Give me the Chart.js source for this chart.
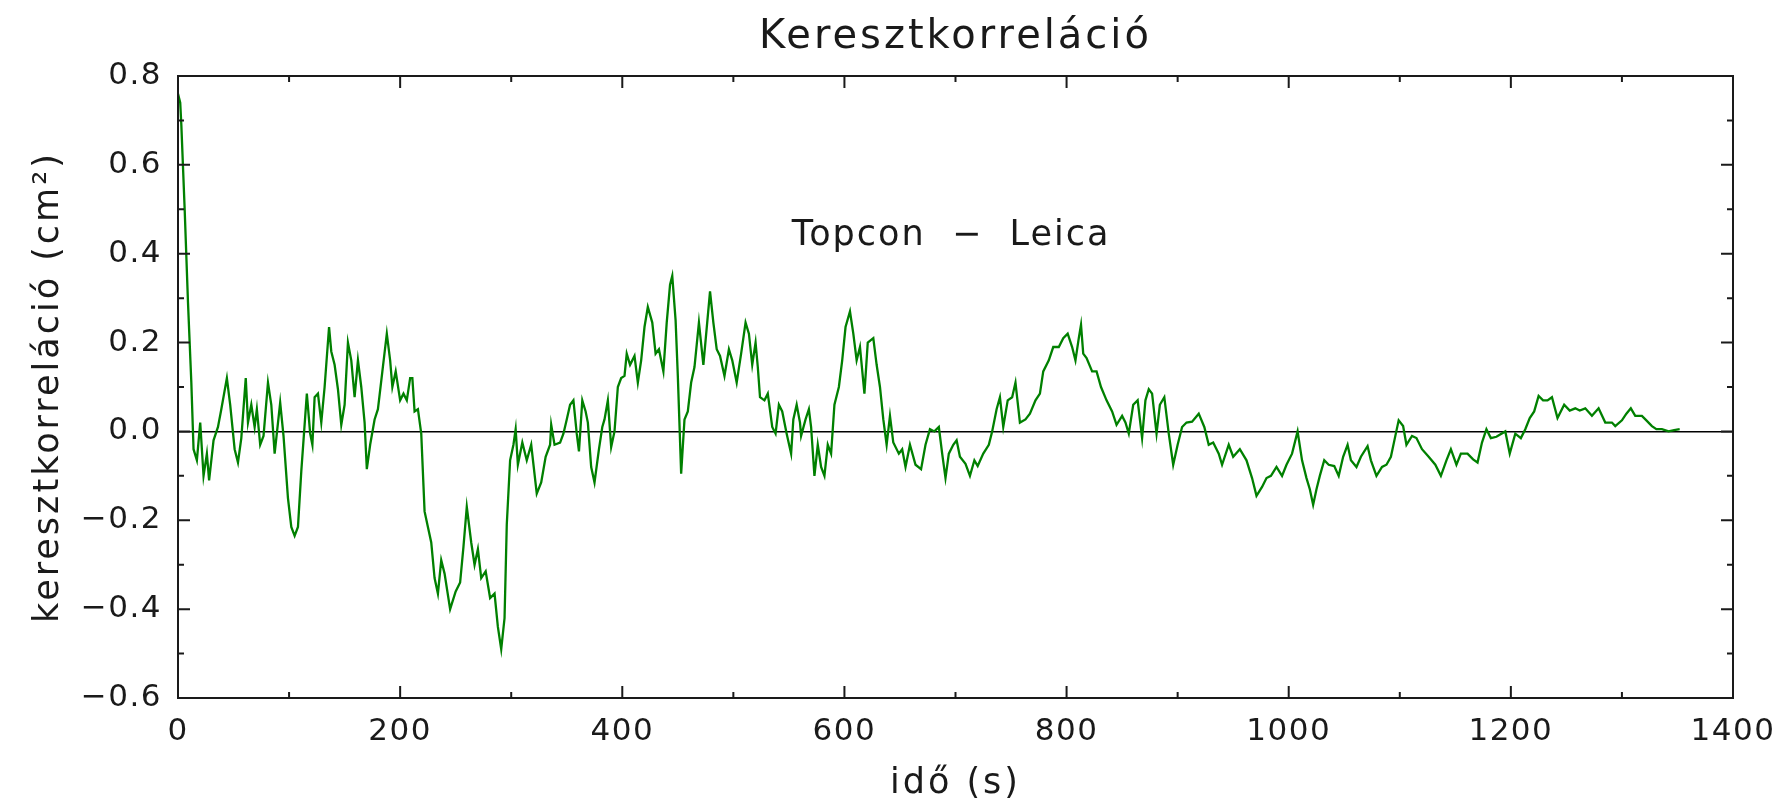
<!DOCTYPE html>
<html>
<head>
<meta charset="utf-8">
<title>Keresztkorreláció</title>
<script src="https://cdn.jsdelivr.net/npm/chart.js@4"></script>
<style>
  html, body { margin: 0; padding: 0; background: #fff; }
  #wrap { width: 1780px; height: 801px; }
</style>
</head>
<body>
<div id="wrap"><canvas id="xcorr"></canvas></div>
<script>
// time lag (s) and cross-correlation (cm^2)
const times = [
  0, 2, 3, 6, 9, 12, 14, 17, 20, 23, 26, 28, 32, 36, 39, 44, 47, 51, 54, 57,
  61, 63, 66, 69, 71, 74, 77, 81, 84, 87, 92, 95, 99, 102, 105, 108, 111, 116, 119, 121,
  123, 126, 129, 132, 136, 138, 141, 144, 147, 150, 153, 156, 159, 162, 165, 168, 170, 173, 177, 180,
  184, 188, 191, 193, 196, 200, 203, 206, 209, 211, 213, 216, 219, 222, 225, 228,
  231, 234, 237, 240, 245, 250, 254, 257, 260, 264, 267, 270, 273, 277, 281, 285, 288, 291, 294, 296,
  299, 302, 304, 306, 310, 314, 318, 323, 327, 331, 335, 336, 339, 344, 347, 350, 353, 356, 359, 361,
  364, 367, 369, 372, 375, 379, 382, 384, 387, 390, 393, 396, 399, 402, 404, 407, 411, 414, 417, 420,
  423, 427, 430, 433, 437, 440, 443, 445, 448, 450, 453, 456, 459, 462, 465,
  469, 473, 479, 482, 485, 488, 492, 496, 499, 503, 507, 511, 514, 517, 520, 522, 524, 528, 531, 535,
  538, 541, 544, 548, 552, 554, 557, 560, 561, 565, 568, 570, 573, 576, 579, 582, 585, 588, 591, 595,
  598, 601, 605, 608, 611, 614, 618, 621, 626, 629, 632, 635, 638, 641, 644, 649, 652, 655, 659, 664,
  669, 673, 677, 681, 685, 688, 691, 694, 698,
  701, 704, 709, 713, 717, 720, 725, 730, 733, 737, 740, 743, 747, 751, 754, 758, 763, 767, 772, 776,
  779, 784, 788, 793, 797, 801, 805, 808, 811, 813, 815, 818, 823, 827, 831, 836, 841, 845, 850, 853,
  856, 860, 864, 868, 871, 874, 877, 881, 884, 888, 892, 896, 900, 904, 908, 913, 919, 924, 928, 932,
  937, 940, 946, 950, 956, 962, 967, 971, 976, 980, 984, 989, 994, 998, 1003, 1008, 1012, 1016, 1019, 1022,
  1025, 1028, 1032, 1036, 1041, 1045, 1049, 1053, 1056, 1061, 1065, 1071, 1074, 1079, 1084, 1088, 1092, 1096, 1099, 1103,
  1106, 1111, 1115, 1120, 1126, 1132, 1137, 1142, 1146, 1151, 1155, 1161, 1166,
  1170, 1174, 1178, 1182, 1187, 1195, 1199, 1204, 1209, 1213, 1217, 1221, 1225, 1229, 1233, 1237, 1242, 1248, 1253, 1258,
  1262, 1267, 1273, 1279, 1285, 1291, 1294, 1300, 1304, 1308, 1312, 1318, 1322, 1327, 1331, 1336, 1342, 1347, 1352
];
const xcorr = [
  0.76, 0.74, 0.69, 0.50, 0.29, 0.11, -0.04, -0.065, 0.02, -0.10, -0.05, -0.11, -0.02, 0.01, 0.05, 0.12, 0.06, -0.04, -0.07, -0.015,
  0.12, 0.02, 0.06, 0.01, 0.05, -0.03, -0.01, 0.11, 0.06, -0.05, 0.065, -0.01, -0.15, -0.215, -0.235, -0.215, -0.09, 0.085, -0.005, -0.03,
  0.077, 0.085, 0.02, 0.10, 0.235, 0.18, 0.15, 0.095, 0.015, 0.06, 0.20, 0.16, 0.077, 0.16, 0.10, 0.02, -0.085, -0.03, 0.027, 0.05,
  0.135, 0.22, 0.16, 0.10, 0.135, 0.07, 0.085, 0.07, 0.12, 0.12, 0.045, 0.05, -0.005, -0.18, -0.215, -0.25,
  -0.33, -0.365, -0.29, -0.32, -0.40, -0.36, -0.34, -0.26, -0.17, -0.25, -0.30, -0.265, -0.33, -0.315, -0.375, -0.365, -0.44, -0.49, -0.42, -0.21,
  -0.065, -0.03, 0.005, -0.075, -0.025, -0.065, -0.03, -0.14, -0.115, -0.057, -0.03, 0.015, -0.03, -0.025, -0.005, 0.027, 0.06, 0.07, -0.005, -0.045,
  0.07, 0.045, 0.02, -0.08, -0.115, -0.04, 0.01, 0.027, 0.07, -0.035, 0.0, 0.10, 0.12, 0.125, 0.175, 0.15, 0.17, 0.11, 0.16, 0.235,
  0.28, 0.245, 0.175, 0.185, 0.135, 0.245, 0.33, 0.35, 0.25, 0.125, -0.095, 0.027, 0.045, 0.11, 0.145,
  0.245, 0.15, 0.315, 0.245, 0.185, 0.17, 0.125, 0.185, 0.16, 0.11, 0.175, 0.245, 0.22, 0.15, 0.20, 0.145, 0.077, 0.07, 0.085, 0.01,
  -0.005, 0.06, 0.045, -0.005, -0.05, 0.027, 0.06, 0.02, -0.01, 0.027, 0.05, 0.01, -0.10, -0.03, -0.08, -0.10, -0.03, -0.05, 0.06, 0.10,
  0.16, 0.235, 0.27, 0.22, 0.16, 0.19, 0.085, 0.20, 0.21, 0.15, 0.10, 0.027, -0.03, 0.035, -0.025, -0.05, -0.04, -0.08, -0.03, -0.075,
  -0.085, -0.03, 0.005, 0.0, 0.01, -0.05, -0.105, -0.05, -0.03,
  -0.02, -0.057, -0.073, -0.10, -0.065, -0.078, -0.05, -0.03, 0.0, 0.05, 0.077, 0.01, 0.07, 0.077, 0.11, 0.02, 0.027, 0.04, 0.07, 0.085,
  0.135, 0.16, 0.19, 0.19, 0.21, 0.22, 0.19, 0.16, 0.21, 0.24, 0.175, 0.165, 0.135, 0.135, 0.10, 0.07, 0.045, 0.015, 0.035, 0.02,
  -0.005, 0.06, 0.07, -0.015, 0.07, 0.095, 0.085, -0.005, 0.06, 0.077, -0.005, -0.075, -0.03, 0.01, 0.02, 0.022, 0.04, 0.01, -0.03, -0.025,
  -0.05, -0.075, -0.03, -0.057, -0.04, -0.065, -0.105, -0.145, -0.125, -0.105, -0.10, -0.08, -0.10, -0.075, -0.05, 0.0, -0.065, -0.105, -0.13, -0.165,
  -0.13, -0.10, -0.065, -0.075, -0.078, -0.10, -0.057, -0.03, -0.065, -0.08, -0.057, -0.033, -0.065, -0.10, -0.08, -0.075, -0.057, -0.01, 0.025, 0.012,
  -0.03, -0.01, -0.015, -0.04, -0.057, -0.075, -0.10, -0.065, -0.04, -0.075, -0.05, -0.05, -0.063,
  -0.07, -0.025, 0.005, -0.015, -0.012, 0.0, -0.05, -0.005, -0.015, 0.005, 0.03, 0.045, 0.08, 0.07, 0.07, 0.077, 0.03, 0.06, 0.047, 0.052,
  0.047, 0.052, 0.035, 0.052, 0.02, 0.02, 0.012, 0.025, 0.04, 0.052, 0.035, 0.035, 0.025, 0.012, 0.005, 0.005, 0.0, 0.003, 0.005
];

const xMajor = [0, 200, 400, 600, 800, 1000, 1200, 1400];
const xMinor = [100, 300, 500, 700, 900, 1100, 1300];
const yMajor = [-0.6, -0.4, -0.2, 0.0, 0.2, 0.4, 0.6, 0.8];
const yMinor = [-0.5, -0.3, -0.1, 0.1, 0.3, 0.5, 0.7];

const label = { text: 'Topcon  \u2212  Leica', x: 696, y: 0.44 };

const ink = '#1a1a1a';
const fontFamily = '"DejaVu Sans", sans-serif';

// IDL-style frame: box on all sides, ticks pointing inward.
// Titles get wider letter spacing than the tick labels (ticks are drawn after the datasets, z: 1).
const framePlugin = {
  id: 'frame',
  beforeDraw(chart) {
    chart.ctx.letterSpacing = '3px';
  },
  afterDatasetsDraw(chart) {
    chart.ctx.letterSpacing = '1.5px';
  },
  afterDraw(chart) {
    const { ctx, chartArea: a, scales: { x, y } } = chart;
    ctx.save();
    ctx.strokeStyle = ink;
    ctx.lineWidth = 2;
    ctx.strokeRect(a.left, a.top, a.right - a.left, a.bottom - a.top);
    ctx.beginPath();
    const xt = (v, len) => {
      const px = x.getPixelForValue(v);
      ctx.moveTo(px, a.bottom); ctx.lineTo(px, a.bottom - len);
      ctx.moveTo(px, a.top); ctx.lineTo(px, a.top + len);
    };
    const yt = (v, len) => {
      const py = y.getPixelForValue(v);
      ctx.moveTo(a.left, py); ctx.lineTo(a.left + len, py);
      ctx.moveTo(a.right, py); ctx.lineTo(a.right - len, py);
    };
    xMajor.forEach(v => xt(v, 12));
    xMinor.forEach(v => xt(v, 6));
    yMajor.forEach(v => yt(v, 12));
    yMinor.forEach(v => yt(v, 6));
    ctx.stroke();

    ctx.letterSpacing = '2px';
    ctx.fillStyle = ink;
    ctx.font = '35px ' + fontFamily;
    ctx.textAlign = 'center';
    ctx.textBaseline = 'middle';
    ctx.fillText(label.text, x.getPixelForValue(label.x), y.getPixelForValue(label.y));
    ctx.restore();
  }
};

new Chart(document.getElementById('xcorr'), {
  type: 'line',
  data: {
    datasets: [{
      data: times.map((t, i) => ({ x: t, y: xcorr[i] })),
      borderColor: '#008000',
      borderWidth: 2.3,
      pointRadius: 0,
      tension: 0,
      fill: false
    }]
  },
  options: {
    responsive: true,
    maintainAspectRatio: false,
    animation: false,
    layout: { padding: { top: 0, left: 0, right: 47, bottom: 0 } },
    plugins: {
      legend: { display: false },
      tooltip: { enabled: false },
      title: {
        display: true,
        text: 'Keresztkorreláció',
        fullSize: false,
        color: ink,
        font: { family: fontFamily, size: 40, weight: 'normal', lineHeight: 1.2 },
        padding: { top: 14, bottom: 14 }
      }
    },
    scales: {
      x: {
        type: 'linear',
        min: 0,
        max: 1400,
        afterBuildTicks: s => { s.ticks = xMajor.map(v => ({ value: v })); },
        afterFit: s => { s.height = 103; },
        grid: { display: false },
        border: { display: false },
        ticks: {
          z: 1,
          color: ink,
          maxRotation: 0,
          padding: 7,
          font: { family: fontFamily, size: 31 },
          callback: v => String(v)
        },
        title: {
          display: true,
          text: 'idő (s)',
          color: ink,
          font: { family: fontFamily, size: 35, lineHeight: 1 },
          padding: { top: 0, bottom: 0 }
        }
      },
      y: {
        min: -0.6,
        max: 0.8,
        afterBuildTicks: s => { s.ticks = yMajor.map(v => ({ value: v })); },
        afterFit: s => { s.width = 178; },
        grid: {
          drawTicks: false,
          lineWidth: 1.5,
          color: c => (c.tick && Math.abs(c.tick.value) < 1e-9) ? '#000' : 'rgba(0,0,0,0)'
        },
        border: { display: false },
        ticks: {
          z: 1,
          color: ink,
          padding: 16,
          font: { family: fontFamily, size: 31 },
          callback: v => v.toFixed(1).replace('-', '\u2212')
        },
        title: {
          display: true,
          text: 'keresztkorreláció (cm²)',
          color: ink,
          font: { family: fontFamily, size: 35, lineHeight: 1.2 },
          padding: { top: 28, bottom: 0 }
        }
      }
    }
  },
  plugins: [framePlugin]
});
</script>
</body>
</html>
